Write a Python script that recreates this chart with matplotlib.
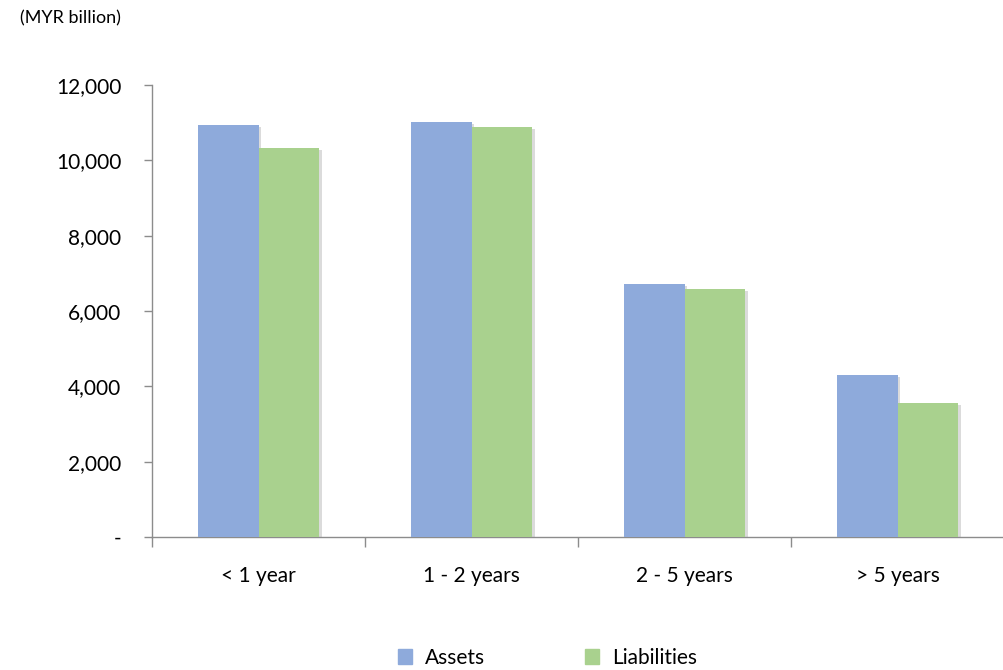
import matplotlib
matplotlib.use("Agg")
import matplotlib.pyplot as plt
import matplotlib.patheffects as pe
from matplotlib.patches import Patch
import numpy as np

# Laufzeitbänder und Werte (MYR billion)
categories = ["< 1 year", "1 - 2 years", "2 - 5 years", "> 5 years"]
assets = [10930, 11030, 6710, 4310]
liabilities = [10340, 10880, 6590, 3550]
y_ticks = [0, 2000, 4000, 6000, 8000, 10000, 12000]
y_labels = ["-", "2,000", "4,000", "6,000", "8,000", "10,000", "12,000"]

plt.rcParams['font.family'] = ['Lato', 'DejaVu Sans']

fig = plt.figure(figsize=(10.04, 6.70), dpi=100)
ax = fig.add_axes([0.1514, 0.1985, 0.8486, 0.6746])

x = np.arange(len(categories))
w = 0.286
shadow = [pe.SimplePatchShadow(offset=(2, -1.5), shadow_rgbFace='#999999', alpha=0.35), pe.Normal()]

b1 = ax.bar(x - w / 2, assets, width=w, color='#8EAADB', zorder=3)
b2 = ax.bar(x + w / 2, liabilities, width=w, color='#A9D18E', zorder=3)
for bars in (b1, b2):
    for p in bars:
        p.set_path_effects(shadow)

ax.set_xlim(-0.5, len(categories) - 0.5)
ax.set_ylim(0, 12000)

ax.set_yticks(y_ticks)
ax.set_yticklabels(y_labels, fontsize=15)
ax.tick_params(axis='y', length=6, width=1, color='#8c8c8c', pad=16)

ax.set_xticks(x)
ax.set_xticklabels(categories, fontsize=15)
ax.set_xticks(np.arange(len(categories) + 1) - 0.5, minor=True)
ax.tick_params(axis='x', which='major', length=0, pad=21)
ax.tick_params(axis='x', which='minor', length=7, width=1, color='#8c8c8c')

for s in ['top', 'right']:
    ax.spines[s].set_visible(False)
for s in ['left', 'bottom']:
    ax.spines[s].set_color('#8c8c8c')
    ax.spines[s].set_linewidth(1)

fig.text(0.02, 0.972, "(MYR billion)", fontsize=13, va='center', ha='left')

handles = [Patch(color='#8EAADB', label='Assets'), Patch(color='#A9D18E', label='Liabilities')]
fig.legend(handles=handles, loc='center', bbox_to_anchor=(0.545, 1 - 658 / 670),
           ncol=2, frameon=False, fontsize=15, handlelength=0.7, handleheight=0.7,
           columnspacing=4.8, handletextpad=0.6)

fig.savefig("out.png", dpi=100)
